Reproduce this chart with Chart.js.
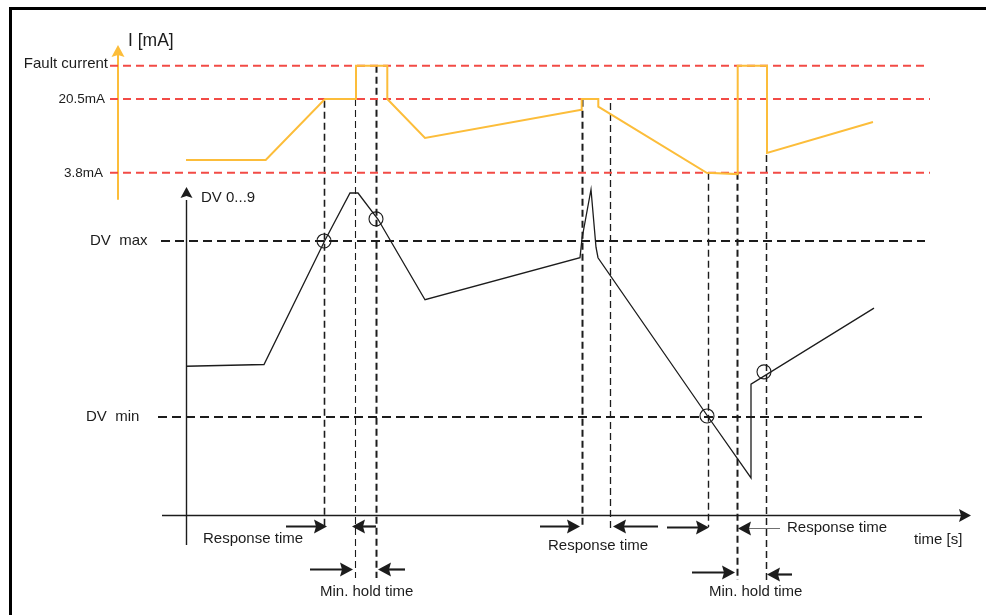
<!DOCTYPE html>
<html>
<head>
<meta charset="utf-8">
<script src="https://cdn.jsdelivr.net/npm/chart.js@4.4.1/dist/chart.umd.min.js"></script>
<style>
  html, body { margin: 0; padding: 0; background: #fff; }
  canvas { display: block; }
</style>
</head>
<body>
<canvas id="myChart" width="986" height="615"></canvas>
<script>
// time axis in s (schematic), current in mA, digital value DV 0...9
var currentT  = [0, 7.97, 13.9, 17.0, 17.0, 20.13, 20.13, 23.9, 39.4, 39.57, 39.57, 41.23, 41.23, 52.07, 55.17, 55.17, 58.1, 58.1, 68.7];
var currentMA = [6.7, 6.7, 20.5, 20.5, 28, 28, 20.5, 11.7, 18.0, 18.0, 20.5, 20.5, 18.75, 3.8, 3.5, 28, 28, 8.3, 15.3];

var dvT     = [0, 7.8, 13.9, 16.4, 17.2, 19.2, 23.9, 39.4, 39.6, 40.5, 41.0, 41.2, 52.1, 56.5, 56.5, 68.8];
var dvValue = [4.25, 4.3, 7.85, 9.2, 9.2, 8.45, 6.15, 7.35, 7.9, 9.3, 7.65, 7.35, 2.85, 1.06, 3.74, 5.91];

// current limits (red) and DV limits (black)
var currentLevels = [28, 20.5, 3.8];
var currentLabels = ["Fault current", "20.5mA", "3.8mA"];
var dvLevels = [7.83, 2.8];
var dvLabels = ["DV  max", "DV  min"];

// switching points where DV crosses a limit
var crossT  = [13.8, 19.0, 52.1, 57.8];
var crossDV = [7.83, 8.46, 2.83, 4.09];

// vertical guides: time, top (mA), bottom (DV below the time axis)
var guideT        = [13.8, 16.9, 19.0, 39.6, 42.4, 52.2, 55.1, 58.0];
var guideTopMA    = [20.1, 20.5, 28, 20.3, 19.6, 3.8, 3.8, 7.8];
var guideBottomDV = [-0.31, -1.8, -1.8, -0.29, -0.43, -0.34, -1.86, -1.86];

// time-span arrows: start, tip, level (DV units below the axis)
var arrowFrom = [10.0, 19.0, 35.4, 47.2, 48.1, 59.4, 12.4, 21.9, 50.6, 60.6];
var arrowTo   = [14.1, 16.6, 39.4, 42.7, 52.3, 55.2, 16.7, 19.2, 54.9, 58.1];
var arrowAt   = [-0.31, -0.31, -0.31, -0.31, -0.34, -0.37, -1.54, -1.54, -1.63, -1.69];

var ORANGE = "#fcbd3a";
var RED = "#f24b46";
var INK = "#1c1c1c";

function pts(xs, ys) {
  return xs.map(function (x, i) { return { x: x, y: ys[i] }; });
}

var datasets = [];
datasets.push({
  data: pts(currentT, currentMA), yAxisID: "yI", showLine: true,
  borderColor: ORANGE, borderWidth: 2, pointRadius: 0, order: 1
});
datasets.push({
  data: pts(dvT, dvValue), yAxisID: "yDV", showLine: true,
  borderColor: INK, borderWidth: 1.3, pointRadius: 0, order: 1
});
datasets.push({
  data: pts(crossT, crossDV), yAxisID: "yDV", showLine: false,
  pointRadius: 7, pointBorderWidth: 1.1, pointBorderColor: INK,
  pointBackgroundColor: "rgba(0,0,0,0)", order: 0
});
currentLevels.forEach(function (lv, i) {
  datasets.push({
    data: [{ x: -7.6, y: lv }, { x: i === 0 ? 73.8 : 74.4, y: lv }], yAxisID: "yI",
    showLine: true, borderColor: RED, borderWidth: 2, borderDash: [8, 5],
    pointRadius: 0, order: 5
  });
});
dvLevels.forEach(function (lv, i) {
  datasets.push({
    data: [{ x: i === 0 ? -2.5 : -2.8, y: lv }, { x: i === 0 ? 73.9 : 73.6, y: lv }], yAxisID: "yDV",
    showLine: true, borderColor: INK, borderWidth: 2, borderDash: [9, 5],
    pointRadius: 0, order: 5
  });
});

var guideWidth = [1.6, 1.1, 2, 2, 1.3, 1.4, 2, 1.5];

function head(c, x, y, dir, len, half) {
  c.beginPath();
  if (dir === "right") { c.moveTo(x, y); c.lineTo(x - len, y - half); c.lineTo(x - len + 2, y); c.lineTo(x - len, y + half); }
  else if (dir === "left") { c.moveTo(x, y); c.lineTo(x + len, y - half); c.lineTo(x + len - 2, y); c.lineTo(x + len, y + half); }
  else { c.moveTo(x, y); c.lineTo(x - half, y + len); c.lineTo(x, y + len - 2); c.lineTo(x + half, y + len); }
  c.closePath();
  c.fill();
}

var drawing = {
  id: "drawing",
  beforeDatasetsDraw: function (chart) {
    var c = chart.ctx, sx = chart.scales.x, sI = chart.scales.yI, sD = chart.scales.yDV;
    c.save();
    // frame
    c.strokeStyle = "#000";
    c.lineWidth = 3;
    c.beginPath(); c.moveTo(10.5, 700); c.lineTo(10.5, 8.5); c.lineTo(1100, 8.5); c.stroke();

    // vertical guides
    c.strokeStyle = INK;
    c.setLineDash([7, 4]);
    guideT.forEach(function (t, i) {
      var px = Math.round(sx.getPixelForValue(t)) + 0.5;
      c.lineWidth = guideWidth[i];
      c.beginPath();
      c.moveTo(px, sI.getPixelForValue(guideTopMA[i]));
      c.lineTo(px, sD.getPixelForValue(guideBottomDV[i]));
      c.stroke();
    });
    c.setLineDash([]);

    // current axis
    var ax = sx.getPixelForValue(-6.8);
    c.strokeStyle = ORANGE; c.fillStyle = ORANGE; c.lineWidth = 2;
    c.beginPath(); c.moveTo(ax, sI.getPixelForValue(-2.3)); c.lineTo(ax, sI.getPixelForValue(30.5)); c.stroke();
    head(c, ax, sI.getPixelForValue(32.7), "up", 12, 6.5);

    // DV axis
    var dx = Math.round(sx.getPixelForValue(0)) + 0.5;
    c.strokeStyle = INK; c.fillStyle = INK; c.lineWidth = 1.4;
    c.beginPath(); c.moveTo(dx, sD.getPixelForValue(-0.86)); c.lineTo(dx, sD.getPixelForValue(9.0)); c.stroke();
    head(c, dx, sD.getPixelForValue(9.37), "up", 11, 6);

    // time axis
    var ty = Math.round(sD.getPixelForValue(0)) + 0.5;
    c.beginPath(); c.moveTo(sx.getPixelForValue(-2.4), ty); c.lineTo(sx.getPixelForValue(77.6), ty); c.stroke();
    head(c, sx.getPixelForValue(78.5), ty, "right", 12, 6.5);
    c.restore();
  },
  afterDatasetsDraw: function (chart) {
    var c = chart.ctx, sx = chart.scales.x, sI = chart.scales.yI, sD = chart.scales.yDV;
    c.save();
    // span arrows
    arrowFrom.forEach(function (f, i) {
      var x0 = sx.getPixelForValue(f), x1 = sx.getPixelForValue(arrowTo[i]);
      var y = Math.round(sD.getPixelForValue(arrowAt[i])) + 0.5;
      var dir = x1 > x0 ? "right" : "left";
      var thin = i === 5;
      c.strokeStyle = thin ? "#707070" : INK;
      c.fillStyle = INK;
      c.lineWidth = thin ? 1.2 : 2.2;
      c.beginPath(); c.moveTo(x0, y); c.lineTo(x1 + (dir === "right" ? -6 : 6), y); c.stroke();
      head(c, x1, y, dir, 13, 7);
    });

    // text
    c.fillStyle = INK;
    c.textBaseline = "middle";
    c.textAlign = "right";
    var labelRight = [-7.8, -8.1, -8.3];
    var labelSize = [15, 13.5, 13.5];
    currentLabels.forEach(function (s, i) {
      c.font = labelSize[i] + "px 'Liberation Sans', Arial, sans-serif";
      c.fillText(s, sx.getPixelForValue(labelRight[i]), sI.getPixelForValue(currentLevels[i]) - (i === 0 ? 2 : 0));
    });
    c.textAlign = "left";
    c.font = "17.5px 'Liberation Sans', Arial, sans-serif";
    c.fillText("I [mA]", sx.getPixelForValue(-5.8), sI.getPixelForValue(33.6));

    c.font = "15px 'Liberation Sans', Arial, sans-serif";
    var dvLabelLeft = [-9.6, -10.0];
    dvLabels.forEach(function (s, i) {
      c.fillText(s, sx.getPixelForValue(dvLabelLeft[i]), sD.getPixelForValue(dvLevels[i]));
    });
    c.fillText("DV 0...9", sx.getPixelForValue(1.5), sD.getPixelForValue(9.06));

    var notes = [
      ["Response time", 1.7, -0.69],
      ["Min. hold time", 13.4, -2.2],
      ["Response time", 36.2, -0.89],
      ["Response time", 60.1, -0.37],
      ["time [s]", 72.8, -0.71],
      ["Min. hold time", 52.3, -2.2]
    ];
    notes.forEach(function (n) {
      c.fillText(n[0], sx.getPixelForValue(n[1]), sD.getPixelForValue(n[2]));
    });
    c.restore();
  }
};

new Chart(document.getElementById("myChart").getContext("2d"), {
  type: "scatter",
  data: { datasets: datasets },
  options: {
    responsive: false,
    animation: false,
    layout: { padding: 0, autoPadding: false },
    plugins: { legend: { display: false }, tooltip: { enabled: false } },
    elements: { line: { tension: 0, fill: false } },
    scales: {
      x: { type: "linear", display: false, min: -18.6, max: 80.0 },
      yI: { type: "linear", display: false, min: -96.24, max: 42.89 },
      yDV: { type: "linear", display: false, min: -2.857, max: 14.714 }
    }
  },
  plugins: [drawing]
});
</script>
</body>
</html>
